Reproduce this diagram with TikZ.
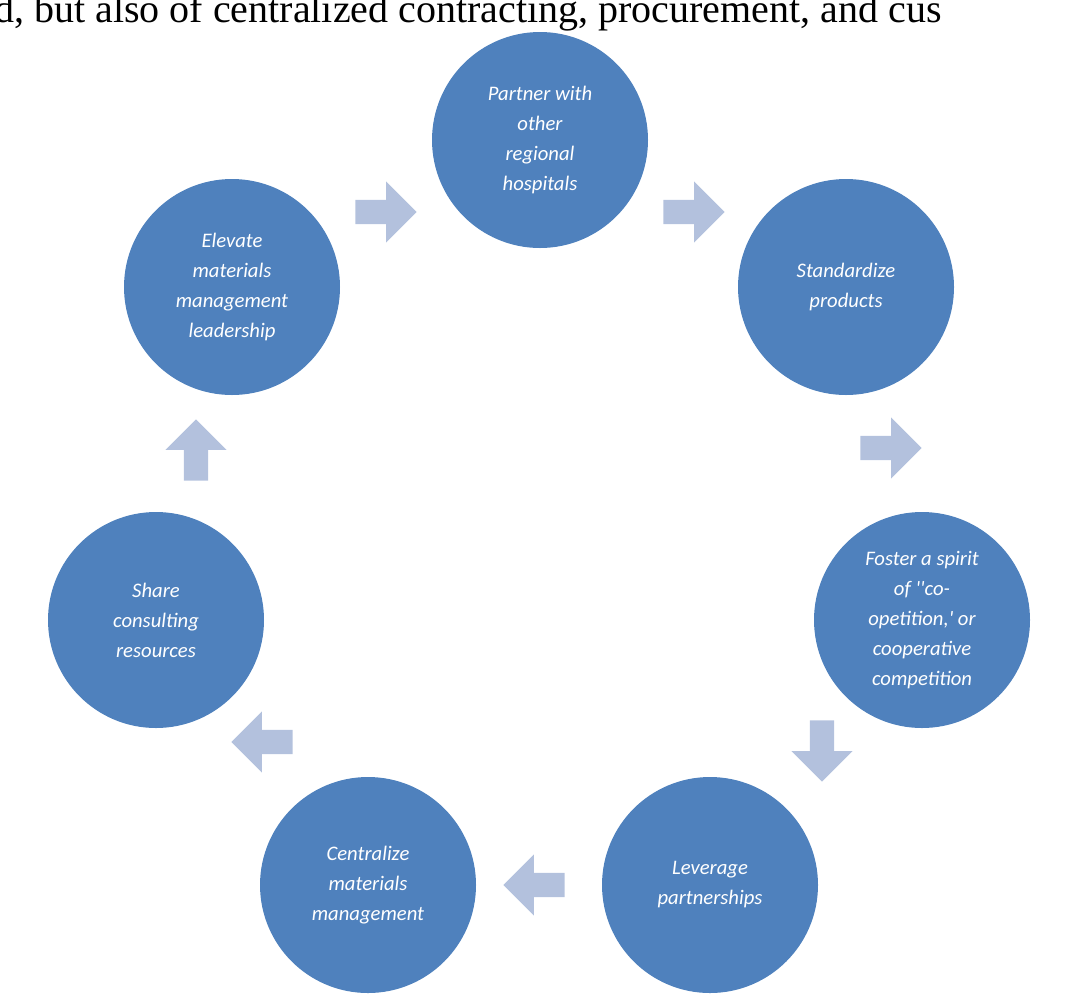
\documentclass[tikz,border=0pt]{standalone}
\usepackage{fontspec}
\setmainfont{Liberation Serif}
\newfontfamily\carlitofont{Carlito}
\usetikzlibrary{shapes.arrows}
\definecolor{circ}{HTML}{4F81BD}
\definecolor{arr}{HTML}{B3C1DD}
\begin{document}
\begin{tikzpicture}[x=0.75pt,y=-0.75pt,
  stepc/.style={circle,fill=circ,minimum size=162pt,inner sep=0pt,text=white,align=center,
    font=\carlitofont\itshape\fontsize{15.5}{22.5}\selectfont},
  ar/.style={single arrow,fill=arr,minimum height=46pt,minimum width=46pt,
    single arrow head extend=8pt,inner sep=5pt,shape border rotate=#1}]
\useasboundingbox (0,0) rectangle (1080,993);
\clip (0,0) rectangle (1080,993);
\node[anchor=base west,inner sep=0pt,font=\fontsize{30}{30}\selectfont] (top) at (-6,22) {d, but also of centralized contracting, procurement, and cus};
\node[stepc] (p) at (540,140) {Partner with\\other\\regional\\hospitals};
\node[stepc] (s) at (846,287) {Standardize\\products};
\node[stepc] (f) at (922,620) {Foster a spirit\\of ''co-\\opetition,' or\\cooperative\\competition};
\node[stepc] (l) at (710,885) {Leverage\\partnerships};
\node[stepc] (c) at (368,885) {Centralize\\materials\\management};
\node[stepc] (h) at (156,620) {Share\\consulting\\resources};
\node[stepc] (e) at (232,287) {Elevate\\materials\\management\\leadership};
\node[ar=40] (a1) at (380,212) {};
\node[ar=-30] (a2) at (688,212) {};
\node[ar=-80] (a3) at (885,448) {};
\node[ar=-135] (a4) at (822,745) {};
\node[ar=180] (a5) at (540,885) {};
\node[ar=135] (a6) at (268,742) {};
\node[ar=100] (a7) at (196,456) {};
\end{tikzpicture}
\end{document}
